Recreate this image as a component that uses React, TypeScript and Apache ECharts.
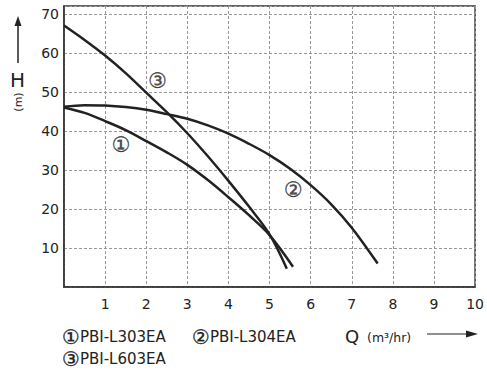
import React, { useEffect, useRef } from "react";
import * as echarts from "echarts";

// Pump curves: flow Q (m³/hr) vs head H (m)
const flow1 = [0, 0.5, 1, 1.5, 2, 2.5, 3, 3.5, 4, 4.5, 5, 5.57];
const head1 = [46, 44.6, 42.5, 40.2, 37.4, 34.5, 31.3, 27.4, 23.0, 18.4, 13.3, 5.2];

const flow2 = [0, 0.5, 1, 1.5, 2, 2.5, 3, 3.5, 4, 4.5, 5, 5.5, 6, 6.5, 7, 7.63];
const head2 = [46.2, 46.6, 46.5, 46.1, 45.4, 44.3, 43.1, 41.4, 39.3, 36.7, 33.8, 30.3, 26.1, 21.2, 15.2, 6];

const flow3 = [0, 0.5, 1, 1.5, 2, 2.5, 3, 3.5, 4, 4.5, 5, 5.42];
const head3 = [67, 63.3, 59.3, 54.8, 49.8, 44.8, 39.4, 33.5, 27.2, 20.6, 13.5, 4.7];

const modelNames = ["PBI-L303EA", "PBI-L304EA", "PBI-L603EA"];
const circledMarks = ["①", "②", "③"];

// curve number labels placed on the chart (data coordinates)
const markQ = [1.39, 5.58, 2.28];
const markH = [36.5, 24.9, 52.8];

const xTicks = [1, 2, 3, 4, 5, 6, 7, 8, 9, 10];
const yTicks = [10, 20, 30, 40, 50, 60, 70];

const FONT = "DejaVu Sans";
const CIRC = "'DejaVu Sans', 'Noto Sans CJK JP'";
const INK = "#222";

function zip(xs: number[], ys: number[]) {
  return xs.map((x, i) => [x, ys[i]]);
}

export default function App() {
  const ref = useRef<HTMLDivElement>(null);
  useEffect(() => {
    const chart = echarts.init(ref.current!, null, { renderer: "svg" });
    const curves = [zip(flow1, head1), zip(flow2, head2), zip(flow3, head3)];
    const legendText = {
      fontFamily: FONT,
      color: INK,
      rich: {
        c: {
          fontFamily: CIRC,
          fontSize: 20,
          color: INK,
          lineHeight: 18,
          textBorderColor: INK,
          textBorderWidth: 0.3,
        },
        t: { fontFamily: FONT, fontSize: 15, color: INK, lineHeight: 18 },
      },
    };
    const legendFormatter = (name: string) => {
      const i = modelNames.indexOf(name);
      return `{c|${circledMarks[i]}}{t|${name}}`;
    };
    const legendBase = {
      icon: "none",
      itemWidth: 0,
      itemHeight: 14,
      padding: 0,
      textStyle: legendText,
      formatter: legendFormatter,
      selectedMode: false,
    };
    chart.setOption({
      animation: false,
      backgroundColor: "#fff",
      textStyle: { fontFamily: FONT },
      grid: {
        left: 64,
        top: 6,
        right: 9,
        bottom: 84,
        show: true,
        borderColor: "#333",
        borderWidth: 1.5,
        containLabel: false,
      },
      legend: [
        { ...legendBase, data: [modelNames[0]], left: 57, top: 326.5 },
        { ...legendBase, data: [modelNames[1]], left: 187, top: 326.5 },
        { ...legendBase, data: [modelNames[2]], left: 57, top: 348.5 },
      ],
      xAxis: {
        type: "value",
        min: 0,
        max: 10,
        interval: 1,
        axisLine: { show: true, lineStyle: { color: "#333", width: 1.5 } },
        axisTick: { show: false },
        axisLabel: {
          margin: 10,
          fontSize: 14,
          color: INK,
          fontFamily: FONT,
          formatter: (v: number) => (xTicks.includes(v) ? String(v) : ""),
        },
        splitLine: { show: true, lineStyle: { color: "#999", width: 1, type: [3, 2] } },
      },
      yAxis: {
        type: "value",
        min: 0,
        max: 72,
        interval: 10,
        axisLine: { show: true, lineStyle: { color: "#333", width: 1.5 } },
        axisTick: { show: false },
        axisLabel: {
          margin: 5,
          fontSize: 14,
          color: INK,
          fontFamily: FONT,
          formatter: (v: number) => (yTicks.includes(v) ? String(v) : ""),
        },
        splitLine: { show: true, lineStyle: { color: "#999", width: 1, type: [3, 2] } },
      },
      series: [
        ...curves.map((d, i) => ({
          name: modelNames[i],
          type: "line",
          data: d,
          smooth: 0.35,
          symbol: "none",
          lineStyle: { color: INK, width: 2.5 },
          itemStyle: { color: INK },
        })),
        {
          name: "marks",
          type: "scatter",
          symbolSize: 0,
          data: markQ.map((q, i) => [q, markH[i], circledMarks[i]]),
          label: {
            show: true,
            position: "inside",
            fontFamily: CIRC,
            fontSize: 21,
            color: INK,
            textBorderColor: INK,
            textBorderWidth: 0.35,
            formatter: (p: any) => p.value[2],
          },
          silent: true,
        },
      ],
      graphic: [
        // y-axis title: arrow, H, (m)
        { type: "line", shape: { x1: 18, y1: 63, x2: 18, y2: 24 }, style: { stroke: INK, lineWidth: 1.5 } },
        { type: "polygon", shape: { points: [[18, 16], [14.5, 26], [21.5, 26]] }, style: { fill: INK } },
        {
          type: "text",
          x: 17.5,
          y: 80,
          style: { text: "H", font: `20px '${FONT}'`, fill: INK, align: "center", verticalAlign: "middle" },
        },
        {
          type: "text",
          x: 18,
          y: 102,
          rotation: Math.PI / 2,
          style: { text: "(m)", font: `11px '${FONT}'`, fill: INK, align: "center", verticalAlign: "middle" },
        },
        // x-axis title: Q (m³/hr) →
        {
          type: "text",
          x: 352,
          y: 336,
          style: { text: "Q", font: `18px '${FONT}'`, fill: INK, align: "center", verticalAlign: "middle" },
        },
        {
          type: "text",
          x: 367,
          y: 337,
          style: { text: "(m³/hr)", font: `12.5px '${FONT}'`, fill: INK, align: "left", verticalAlign: "middle" },
        },
        { type: "line", shape: { x1: 427, y1: 334, x2: 468, y2: 334 }, style: { stroke: INK, lineWidth: 1.2 } },
        { type: "polygon", shape: { points: [[478, 334], [466, 330.5], [466, 337.5]] }, style: { fill: INK } },
      ],
    });
    return () => chart.dispose();
  }, []);
  return (
    <div
      ref={ref}
      style={{ position: "absolute", left: 0, top: 0, width: 487, height: 371, background: "#fff" }}
    />
  );
}
